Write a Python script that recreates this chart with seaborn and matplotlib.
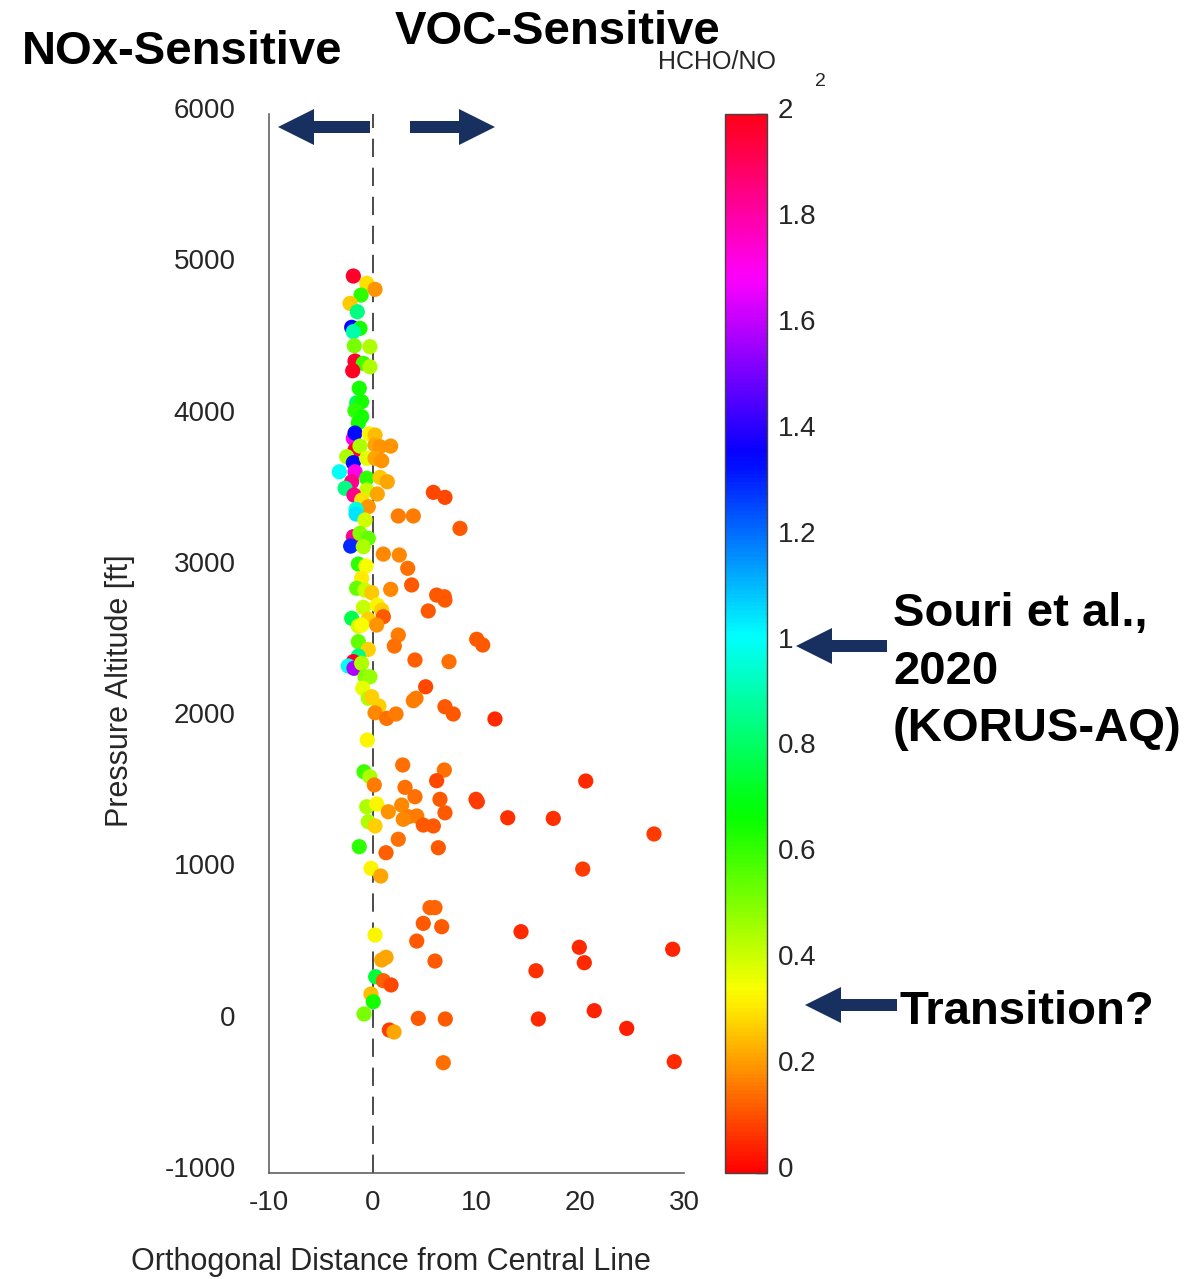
import numpy as np
import pandas as pd
import matplotlib
matplotlib.use("Agg")
import matplotlib.pyplot as plt
import seaborn as sns
from matplotlib.patches import FancyArrow
from matplotlib.colors import Normalize
from matplotlib.cm import ScalarMappable
from matplotlib.transforms import ScaledTranslation

# ---------------- data ----------------
x_dist = [-1.87, -0.58, 0.22, -1.13, -2.19, -1.49, -2.03, -1.23, -1.87, -1.78,
          -0.27, -1.71, -0.91, -1.93, -0.27, -1.30, -1.55, -1.07, -1.71, -1.07,
          -1.39, -1.87, -1.71, -0.33, 0.22, -1.71, -1.23, 0.22, 0.70, 1.73,
          -2.51, -1.87, -0.58, 0.22, 0.86, -3.22, -1.71, -2.03, -0.58, 0.70,
          1.40, -2.67, -0.58, -1.81, 0.44, -1.07, -0.43, -1.61, -1.61, -0.75,
          2.46, 3.91, 5.84, 6.96, 8.41, -1.87, -1.23, -0.43, -2.13, -0.91,
          1.02, 2.56, -1.39, -0.65, 3.37, -1.07, -1.55, -0.75, -0.10, 1.73,
          3.75, 6.16, 6.96, 6.90, -0.91, 0.44, 0.86, 5.35, -2.03, -0.43,
          1.02, -1.39, -1.07, 0.38, 2.46, 10.02, 10.60, -1.39, -0.43, 2.08,
          -1.39, -1.87, -2.36, -1.81, -1.07, 4.07, 7.35, -0.75, -0.27, -0.97,
          5.10, -0.43, -0.10, 3.91, 4.17, 0.60, 0.22, 6.96, 7.76, 1.34,
          2.24, 11.78, -0.53, 2.89, -0.84, -0.27, 0.15, 6.90, 6.16, 20.53,
          3.11, 4.07, 6.48, 9.95, 10.08, -0.58, 0.38, 1.50, 2.79, 6.96,
          3.43, 4.24, 2.94, -0.43, 0.22, 4.87, 5.84, 13.01, 17.40, 27.11,
          2.46, 6.32, -1.30, 1.28, 20.24, -0.17, 0.77, 5.52, 6.00, 4.87,
          6.65, 4.24, 6.00, 0.22, 0.86, 1.28, 14.29, 19.91, 20.39, 28.91,
          15.73, 0.28, 1.02, 1.76, -0.17, 0.05, -0.84, 4.39, 6.99, 15.96,
          21.35, 24.48, 1.60, 2.05, 6.80, 29.06]

altitude = [4929, 4881, 4841, 4803, 4748, 4693, 4590, 4583, 4561, 4468,
            4462, 4367, 4352, 4303, 4329, 4187, 4091, 4098, 4039, 3999,
            3959, 3856, 3891, 3885, 3878, 3779, 3805, 3812, 3801, 3805,
            3735, 3695, 3724, 3724, 3708, 3635, 3635, 3569, 3592, 3598,
            3569, 3526, 3514, 3481, 3488, 3448, 3404, 3387, 3356, 3316,
            3343, 3343, 3499, 3466, 3261, 3206, 3228, 3195, 3144, 3140,
            3091, 3085, 3025, 3012, 2997, 2931, 2865, 2853, 2836, 2858,
            2887, 2820, 2787, 2809, 2739, 2754, 2721, 2715, 2666, 2660,
            2677, 2615, 2622, 2622, 2556, 2528, 2490, 2512, 2461, 2483,
            2417, 2380, 2351, 2336, 2369, 2391, 2380, 2280, 2280, 2204,
            2214, 2138, 2148, 2122, 2138, 2087, 2042, 2082, 2034, 2005,
            2034, 2001, 1862, 1697, 1652, 1619, 1565, 1664, 1593, 1591,
            1549, 1487, 1470, 1470, 1454, 1421, 1439, 1388, 1432, 1381,
            1355, 1360, 1338, 1322, 1294, 1300, 1294, 1348, 1344, 1241,
            1206, 1150, 1157, 1117, 1009, 1014, 963, 754, 754, 650,
            628, 533, 401, 573, 408, 426, 595, 492, 390, 479,
            337, 297, 271, 243, 183, 132, 51, 22, 18, 18,
            73, -44, -55, -68, -271, -264]

ratio = [1.97, 0.30, 0.20, 0.62, 0.27, 0.85, 1.35, 0.65, 0.90, 0.52,
         0.45, 1.97, 0.60, 1.98, 0.45, 0.65, 0.80, 0.65, 0.62, 0.65,
         0.65, 1.70, 1.35, 0.33, 0.25, 1.97, 0.45, 0.22, 0.20, 0.20,
         0.45, 1.35, 0.38, 0.22, 0.20, 1.00, 1.72, 1.85, 0.62, 0.27,
         0.22, 0.85, 0.42, 1.85, 0.22, 0.30, 0.20, 0.97, 1.05, 0.40,
         0.17, 0.17, 0.10, 0.10, 0.12, 1.85, 0.50, 0.55, 1.30, 0.45,
         0.18, 0.18, 0.62, 0.35, 0.15, 0.32, 0.55, 0.42, 0.27, 0.18,
         0.12, 0.12, 0.12, 0.12, 0.42, 0.33, 0.28, 0.12, 0.78, 0.28,
         0.12, 0.40, 0.35, 0.20, 0.17, 0.12, 0.12, 0.55, 0.28, 0.15,
         0.85, 1.97, 1.00, 1.58, 0.45, 0.13, 0.15, 0.50, 0.48, 0.37,
         0.10, 0.45, 0.28, 0.17, 0.17, 0.28, 0.18, 0.12, 0.12, 0.15,
         0.17, 0.06, 0.33, 0.15, 0.60, 0.45, 0.17, 0.15, 0.10, 0.06,
         0.15, 0.15, 0.12, 0.08, 0.08, 0.45, 0.33, 0.20, 0.18, 0.12,
         0.17, 0.17, 0.18, 0.45, 0.28, 0.12, 0.12, 0.07, 0.07, 0.08,
         0.15, 0.12, 0.62, 0.13, 0.08, 0.33, 0.22, 0.14, 0.14, 0.12,
         0.12, 0.12, 0.12, 0.33, 0.22, 0.22, 0.06, 0.06, 0.06, 0.05,
         0.07, 0.75, 0.13, 0.10, 0.25, 0.65, 0.52, 0.12, 0.12, 0.06,
         0.05, 0.04, 0.08, 0.22, 0.15, 0.06]

x_ticks = [-10, 0, 10, 20, 30]
y_ticks = [-1000, 0, 1000, 2000, 3000, 4000, 5000, 6000]
cbar_ticks = [0, 0.2, 0.4, 0.6, 0.8, 1, 1.2, 1.4, 1.6, 1.8, 2]
cbar_ticklabels = ["0", "0.2", "0.4", "0.6", "0.8", "1", "1.2", "1.4", "1.6", "1.8", "2"]

df = pd.DataFrame({"x": x_dist, "alt": altitude, "ratio": ratio})

# ---------------- style ----------------
sns.set_style("white")
plt.rcParams["font.family"] = ["Liberation Sans", "DejaVu Sans"]
TXT = "#262626"
SPINE = "#555555"
NAVY = "#17305f"

W, H = 1186, 1279
fig = plt.figure(figsize=(W / 100, H / 100), dpi=100)
fig.patch.set_facecolor("white")

ax = fig.add_axes([269 / W, 1 - 1173 / H, 415 / W, 1059 / H])
cax = fig.add_axes([725 / W, 1 - 1173 / H, 42 / W, 1059 / H])

sns.scatterplot(data=df, x="x", y="alt", hue="ratio", palette="hsv",
                hue_norm=(0, 2), s=120, linewidth=0, legend=False, ax=ax,
                zorder=3)

ax.axvline(0, color="#1a1a1a", lw=1.1, ls=(0, (12, 7)), zorder=2)

ax.set_xlim(-10, 30)
ax.set_ylim(-1000, 6000)
ax.set_xticks(x_ticks)
ax.set_yticks(y_ticks)
ax.set_xticklabels([str(v) for v in x_ticks])
ax.set_yticklabels([str(v) for v in y_ticks])
for s in ["top", "right"]:
    ax.spines[s].set_visible(False)
for s in ["left", "bottom"]:
    ax.spines[s].set_color(SPINE)
    ax.spines[s].set_linewidth(1.1)
ax.tick_params(axis="y", direction="in", length=8, width=1.0, color=SPINE,
               labelsize=20, labelcolor=TXT, pad=24)
ax.tick_params(axis="x", direction="in", length=8, width=1.0, color=SPINE,
               labelsize=20, labelcolor=TXT, pad=12)

ax.set_xlabel("Orthogonal Distance from Central Line", fontsize=22, color=TXT)
ax.set_ylabel("Pressure Altitude [ft]", fontsize=22, color=TXT)
ax.xaxis.set_label_coords(0.293, -0.070)
ax.yaxis.set_label_coords(-0.322, 0.455)

# colorbar
sm = ScalarMappable(norm=Normalize(0, 2), cmap="hsv")
cb = fig.colorbar(sm, cax=cax, ticks=cbar_ticks)
cb.ax.set_yticklabels(cbar_ticklabels)
cb.outline.set_edgecolor("#444444")
cb.outline.set_linewidth(1.0)
cb.ax.tick_params(direction="in", length=8, width=1.0, color="#333333",
                  labelsize=20, labelcolor=TXT, pad=8)

# lift the vertical tick labels slightly, as in the reference
lift = ScaledTranslation(0, 6 / 100, fig.dpi_scale_trans)
for lab in ax.get_yticklabels() + cb.ax.get_yticklabels():
    lab.set_transform(lab.get_transform() + lift)

# ---------------- annotations ----------------
fig.text(22 / W, 1 - 64 / H, "NOx-Sensitive", fontsize=34, fontweight="bold",
         color="black", ha="left", va="baseline")
fig.text(395 / W, 1 - 44 / H, "VOC-Sensitive", fontsize=34, fontweight="bold",
         color="black", ha="left", va="baseline")
fig.text(658 / W, 1 - 69 / H, "HCHO/NO", fontsize=18, color=TXT,
         ha="left", va="baseline")
fig.text(815 / W, 1 - 86 / H, "2", fontsize=14, color=TXT,
         ha="left", va="baseline")
fig.text(893 / W, 1 - 626 / H, "Souri et al.,", fontsize=34, fontweight="bold",
         color="black", ha="left", va="baseline")
fig.text(893 / W, 1 - 684 / H, "2020", fontsize=34, fontweight="bold",
         color="black", ha="left", va="baseline")
fig.text(893 / W, 1 - 741 / H, "(KORUS-AQ)", fontsize=34, fontweight="bold",
         color="black", ha="left", va="baseline")
fig.text(900 / W, 1 - 1024 / H, "Transition?", fontsize=34, fontweight="bold",
         color="black", ha="left", va="baseline")

# arrows in a pixel-space overlay
ov = fig.add_axes([0, 0, 1, 1], zorder=10)
ov.set_xlim(0, W)
ov.set_ylim(H, 0)
ov.axis("off")
ov.patch.set_alpha(0)

arrows = [
    (370, 127, -92, 0),
    (410, 127, 85, 0),
    (887, 646, -91, 0),
    (897, 1005, -92, 0),
]
for (x0, y0, dx, dy) in arrows:
    ov.add_patch(FancyArrow(x0, y0, dx, dy, width=12, head_width=36,
                            head_length=36, length_includes_head=True,
                            color=NAVY, linewidth=0))

fig.savefig("out.png", dpi=100)
